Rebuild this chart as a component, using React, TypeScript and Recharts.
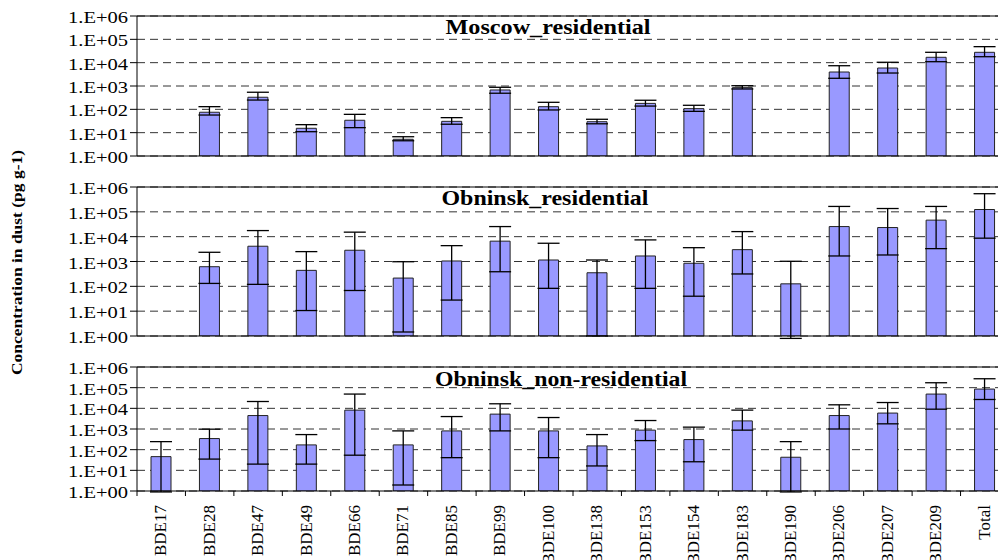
import { BarChart, Bar, XAxis, YAxis, CartesianGrid, ErrorBar, ReferenceLine } from 'recharts';

// PBDE congeners on the x axis
const categories = [
  'BDE17', 'BDE28', 'BDE47', 'BDE49', 'BDE66', 'BDE71', 'BDE85', 'BDE99', 'BDE100',
  'BDE138', 'BDE153', 'BDE154', 'BDE183', 'BDE190', 'BDE206', 'BDE207', 'BDE209', 'Total',
];

const yTicks = [1, 10, 100, 1000, 10000, 100000, 1000000];

// Moscow_residential: mean, lower and upper end of the error bar
const moscowMean = [null, 75, 330, 15.4, 34, 5.2, 30.6, 675, 130, 29.5, 180, 107, 850, null, 3980, 5900, 17000, 27800];
const moscowLow = [null, 57, 250, 11, 16.4, 4.5, 23, 490, 94, 24, 138, 82, 745, null, 2140, 3600, 11000, 18000];
const moscowHigh = [null, 130, 540, 22, 61, 6.7, 44, 880, 200, 37.5, 245, 149, 1030, null, 7400, 10400, 27800, 48500];

// Obninsk_residential
const obnResMean = [null, 617, 4120, 440, 2840, 215, 1050, 6600, 1150, 352, 1670, 850, 3000, 126, 25500, 23300, 46300, 124000];
const obnResLow = [null, 131, 120, 10.6, 68, 1.45, 28, 387, 83, 1, 83, 40, 315, 0.8, 1670, 1830, 3300, 8700];
const obnResHigh = [null, 2350, 17600, 2500, 15200, 980, 4350, 25500, 5430, 1150, 7400, 3600, 16000, 1020, 165000, 136000, 165000, 537000];

// Obninsk_non-residential
const obnNonMean = [46, 345, 4470, 170, 8200, 170, 810, 5250, 810, 152, 880, 308, 2470, 43, 4470, 5900, 49000, 85500];
const obnNonLow = [0.9, 35, 20, 20, 54, 1.95, 41, 810, 41, 16.3, 275, 26, 880, 0.9, 1000, 1780, 9100, 26800];
const obnNonHigh = [245, 980, 21400, 537, 49000, 810, 4000, 16600, 3590, 537, 2570, 1230, 8200, 245, 14800, 19100, 173000, 270000];

const FONT = '"Liberation Serif", "Times New Roman", serif';
const CHART_W = 1001;
const Y_W = 129;
const BAND = (CHART_W - Y_W) / categories.length;

function buildRows(mean: (number | null)[], low: (number | null)[], high: (number | null)[]) {
  return categories.map((name, i) => {
    const m = mean[i];
    if (m == null) return { name, value: null, err: undefined };
    return { name, value: m, err: [m - (low[i] as number), (high[i] as number) - m] };
  });
}

const fmtTick = (v: number) => `1.E+${String(Math.round(Math.log10(v))).padStart(2, '0')}`;

const YTick = (props: any) => {
  const { x, y, payload } = props;
  return (
    <text
      x={x - 60}
      y={y + 7}
      fontSize={17}
      fontFamily={FONT}
      fill="#000"
      textLength={60}
      lengthAdjust="spacingAndGlyphs"
    >
      {fmtTick(payload.value)}
    </text>
  );
};

const XTick = (props: any) => {
  const { x, y, payload, index } = props;
  const half = BAND / 2;
  return (
    <g>
      <line x1={x - half} x2={x - half} y1={y} y2={y + 5} stroke="#000" />
      {index === categories.length - 1 && <line x1={x + half} x2={x + half} y1={y} y2={y + 5} stroke="#000" />}
      <text
        transform={`translate(${x + 5},${y + 14}) rotate(-90)`}
        textAnchor="end"
        fontSize={17}
        fontFamily={FONT}
        fill="#000"
      >
        {payload.value}
      </text>
    </g>
  );
};

interface PanelProps {
  rows: any[];
  height: number;
  marginTop: number;
  marginBottom: number;
  xHeight: number;
  showX: boolean;
}

function Panel({ rows, height, marginTop, marginBottom, xHeight, showX }: PanelProps) {
  return (
    <BarChart
      width={CHART_W}
      height={height}
      data={rows}
      margin={{ top: marginTop, right: 0, bottom: marginBottom, left: 0 }}
      barSize={20}
    >
      <CartesianGrid vertical={false} stroke="#333" strokeDasharray="8 5" />
      <XAxis
        dataKey="name"
        height={xHeight}
        interval={0}
        tickSize={0}
        tickMargin={0}
        tickLine={false}
        axisLine={{ stroke: '#000' }}
        tick={showX ? (p: any) => <XTick {...p} /> : false}
      />
      <YAxis
        scale="log"
        domain={[1, 1000000]}
        ticks={yTicks}
        allowDataOverflow
        width={Y_W}
        tickSize={7}
        tickLine={{ stroke: '#000' }}
        axisLine={{ stroke: '#000' }}
        tick={(p: any) => <YTick {...p} />}
        interval={0}
      />
      <ReferenceLine y={1000000} stroke="#000" />
      <Bar dataKey="value" fill="#9999FF" stroke="#222" strokeWidth={1} isAnimationActive={false}>
        <ErrorBar dataKey="err" width={11} stroke="#000" strokeWidth={1.3} direction="y" />
      </Bar>
    </BarChart>
  );
}

export default function App() {
  return (
    <div style={{ position: 'absolute', left: 8, top: 8, width: 990, height: 552, overflow: 'hidden', background: '#fff' }}>
      <div style={{ position: 'absolute', left: 0, top: 0 }}>
        <Panel rows={buildRows(moscowMean, moscowLow, moscowHigh)} height={160} marginTop={8} marginBottom={11} xHeight={1} showX={false} />
      </div>
      <div style={{ position: 'absolute', left: 0, top: 170 }}>
        <Panel rows={buildRows(obnResMean, obnResLow, obnResHigh)} height={170} marginTop={9} marginBottom={11} xHeight={1} showX={false} />
      </div>
      <div style={{ position: 'absolute', left: 0, top: 350 }}>
        <Panel rows={buildRows(obnNonMean, obnNonLow, obnNonHigh)} height={202} marginTop={9} marginBottom={0} xHeight={69} showX />
      </div>
      <svg width={990} height={552} style={{ position: 'absolute', left: 0, top: 0, pointerEvents: 'none' }}>
        <g fontFamily={FONT} fontWeight="bold" fill="#000">
          <text x={540} y={26} fontSize={20} textAnchor="middle" textLength={205} lengthAdjust="spacingAndGlyphs">
            Moscow_residential
          </text>
          <text x={537} y={197} fontSize={20} textAnchor="middle" textLength={207} lengthAdjust="spacingAndGlyphs">
            Obninsk_residential
          </text>
          <text x={553} y={378} fontSize={20} textAnchor="middle" textLength={252} lengthAdjust="spacingAndGlyphs">
            Obninsk_non-residential
          </text>
          <text
            transform="translate(14,254.5) rotate(-90)"
            fontSize={14}
            textAnchor="middle"
            textLength={225}
            lengthAdjust="spacingAndGlyphs"
          >
            Concentration in dust (pg g-1)
          </text>
        </g>
      </svg>
    </div>
  );
}
